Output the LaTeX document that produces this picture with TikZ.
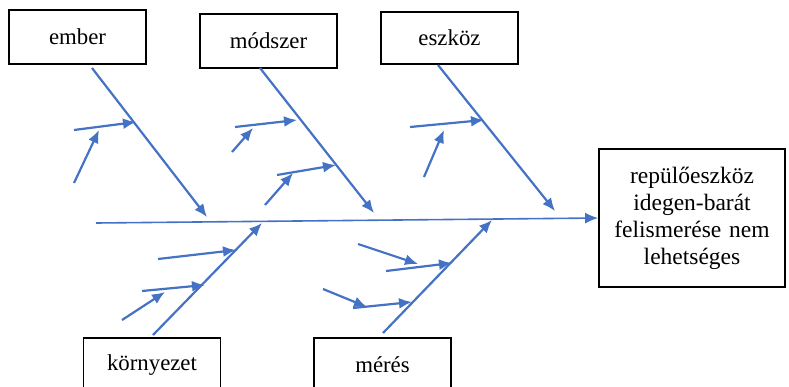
\documentclass[tikz,border=0pt]{standalone}
\usepackage{fontspec}
\setmainfont{Liberation Serif}
\usetikzlibrary{arrows.meta}
\definecolor{myblue}{RGB}{68, 114, 196}
\tikzset{>={Latex[length=13pt,width=11pt]}}

\begin{document}
\begin{tikzpicture}[x=1pt, y=-1pt,
  causebox/.style = {draw, line width=1.7pt, minimum width=137pt, minimum height=54pt, inner sep=0pt, font=\fontsize{22.8}{27}\selectfont},
  bone/.style = {myblue, line width=2.2pt, ->},
  spine/.style = {myblue, line width=1.6pt, ->}]
\useasboundingbox (0,0) rectangle (789,386);
\node [causebox] (ember)    at (77.5, 37)  {ember};
\node [causebox] (modszer)  at (268.5, 41) {módszer};
\node [causebox, minimum height=52pt] (eszkoz) at (449.5, 38) {eszköz};
\node [causebox] (kornyezet) at (152, 365) {környezet};
\node [causebox] (meres)    at (382.5, 365) {mérés};
\node [draw, line width=1.7pt, minimum width=186pt, minimum height=138pt, text width=180pt, align=center, inner sep=0pt, font=\fontsize{23.5}{27}\selectfont] (hatas) at (692, 218)
  {repülőeszköz\\ idegen-barát\\ felismerése nem\\ lehetséges};
% gerinc
\coordinate (sp0) at (96, 223);
\draw[spine] (sp0) -- (hatas.west);
% felso agak
\coordinate (emA) at (92, 68);   \coordinate (emB) at (207, 217);
\coordinate (em1s) at (74, 130); \coordinate (em1t) at (136, 122);
\coordinate (em2s) at (74, 183); \coordinate (em2t) at (99, 130);
\draw[bone] (emA) -- (emB);
\draw[bone] (em1s) -- (em1t);
\draw[bone] (em2s) -- (em2t);
\coordinate (moA) at (260, 68);  \coordinate (moB) at (374, 213);
\coordinate (mo1s) at (235, 127); \coordinate (mo1t) at (297, 120);
\coordinate (mo2s) at (232, 152); \coordinate (mo2t) at (253, 128);
\coordinate (mo3s) at (277, 175); \coordinate (mo3t) at (336, 165);
\coordinate (mo4s) at (265, 205); \coordinate (mo4t) at (293, 173);
\draw[bone] (moA) -- (moB);
\draw[bone] (mo1s) -- (mo1t);
\draw[bone] (mo2s) -- (mo2t);
\draw[bone] (mo3s) -- (mo3t);
\draw[bone] (mo4s) -- (mo4t);
\coordinate (esA) at (438, 65);  \coordinate (esB) at (555, 211);
\coordinate (es1s) at (410, 127); \coordinate (es1t) at (484, 120);
\coordinate (es2s) at (424, 177); \coordinate (es2t) at (444, 130);
\draw[bone] (esA) -- (esB);
\draw[bone] (es1s) -- (es1t);
\draw[bone] (es2s) -- (es2t);
% also agak
\coordinate (koA) at (153, 335); \coordinate (koB) at (262, 223);
\coordinate (ko1s) at (158, 259); \coordinate (ko1t) at (236, 250);
\coordinate (ko2s) at (142, 291); \coordinate (ko2t) at (205, 285);
\coordinate (ko3s) at (122, 320); \coordinate (ko3t) at (165, 292);
\draw[bone] (koA) -- (koB);
\draw[bone] (ko1s) -- (ko1t);
\draw[bone] (ko2s) -- (ko2t);
\draw[bone] (ko3s) -- (ko3t);
\coordinate (meA) at (383, 333); \coordinate (meB) at (492, 220);
\coordinate (me1s) at (386, 271); \coordinate (me1t) at (452, 263);
\coordinate (me2s) at (358, 244); \coordinate (me2t) at (418, 264);
\coordinate (me3s) at (353, 308); \coordinate (me3t) at (412, 302);
\coordinate (me4s) at (323, 289); \coordinate (me4t) at (367, 307);
\draw[bone] (meA) -- (meB);
\draw[bone] (me1s) -- (me1t);
\draw[bone] (me2s) -- (me2t);
\draw[bone] (me3s) -- (me3t);
\draw[bone] (me4s) -- (me4t);
\end{tikzpicture}
\end{document}
